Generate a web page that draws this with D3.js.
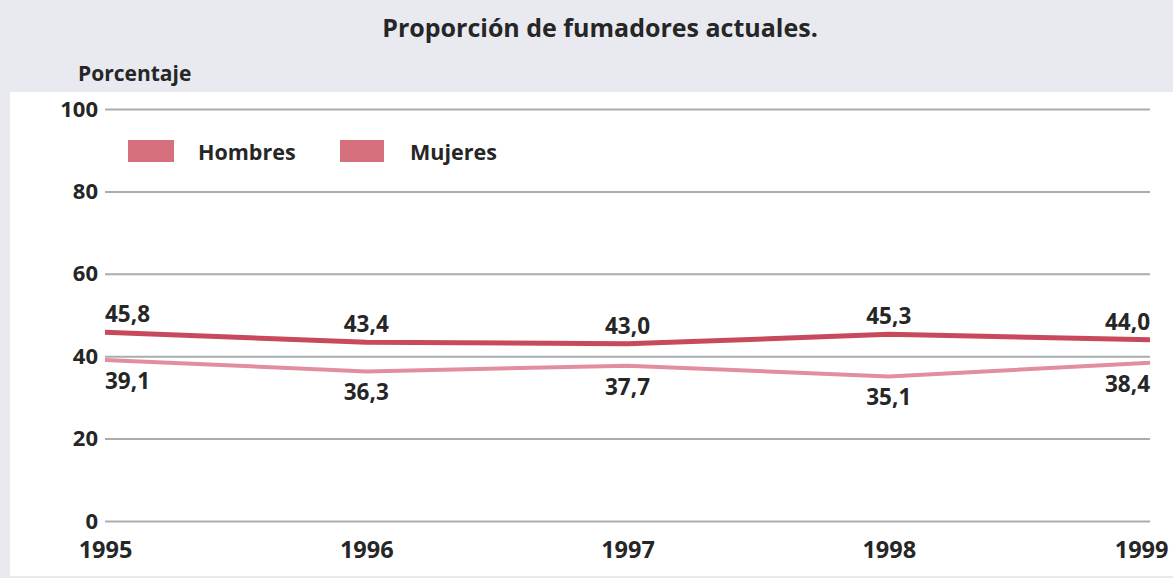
<!DOCTYPE html>
<html>
<head>
<meta charset="utf-8">
<script src="https://cdn.jsdelivr.net/npm/d3@7"></script>
<style>
  body { margin: 0; background: #e8eaf0; }
  text { font-family: "Open Sans", sans-serif; font-weight: 700; fill: #262626; }
</style>
</head>
<body>
<script>
// Data

let years = [1995, 1996, 1997, 1998, 1999]
let hombres = [45.8, 43.4, 43.0, 45.3, 44.0]
let mujeres = [39.1, 36.3, 37.7, 35.1, 38.4]
let yTicks = [0, 20, 40, 60, 80, 100]
let seriesNames = ['Hombres', 'Mujeres']

let width = 1173
let height = 578

let margin = {
    left: 105,
    top: 109,
    right: 23,
    bottom: 57
}

let chartWidth = width - margin.left - margin.right
let chartHeight = height - margin.top - margin.bottom

let colors = {
    Hombres: '#c9495c',
    Mujeres: '#e38ea0'
}

let fmt = v => d3.format('.1f')(v).replace('.', ',')

let svg = d3.select('body')
    .append('svg')
    .attr('width', width)
    .attr('height', height)
    .style('display', 'block')

// background and white panel
svg.append('rect')
    .attr('width', width)
    .attr('height', height)
    .attr('fill', '#e8eaf0')

svg.append('rect')
    .attr('x', 10)
    .attr('y', 92)
    .attr('width', width - 10)
    .attr('height', height - 92 - 2)
    .attr('fill', '#ffffff')

// titles
svg.append('text')
    .attr('x', 600)
    .attr('y', 37)
    .attr('text-anchor', 'middle')
    .style('font-size', '25px')
    .text('Proporción de fumadores actuales.')

svg.append('text')
    .attr('x', 78)
    .attr('y', 81)
    .style('font-size', '21px')
    .text('Porcentaje')

let chartGroup = svg.append('g')
    .attr('transform', `translate(${margin.left}, ${margin.top})`)

let xScale = d3.scalePoint()
    .domain(years)
    .range([0, chartWidth])

let yScale = d3.scaleLinear()
    .domain([0, 100])
    .range([chartHeight, 0])

// gridlines + y labels
let yAxis = d3.axisLeft(yScale)
    .tickValues(yTicks)
    .tickSize(-chartWidth)
    .tickPadding(7)

let yG = chartGroup.append('g').call(yAxis)
yG.select('.domain').remove()
yG.selectAll('line')
    .attr('stroke', '#a9adb0')
    .attr('stroke-width', 2)
yG.selectAll('text')
    .style('font-size', '22px')
    .attr('fill', '#262626')

// year labels
let xAxis = d3.axisBottom(xScale)
    .tickSize(0)
    .tickPadding(20)

let xG = chartGroup.append('g')
    .attr('transform', `translate(0, ${chartHeight})`)
    .call(xAxis)
xG.select('.domain').remove()
xG.selectAll('text')
    .style('font-size', '23.5px')
    .attr('fill', '#262626')
    .attr('text-anchor', (d, i) => i === years.length - 1 ? 'end' : 'middle')
    .attr('x', (d, i) => i === years.length - 1 ? 18 : 0)

// lines
let line = d3.line()
    .x((d, i) => xScale(years[i]))
    .y(d => yScale(d))

chartGroup.append('path')
    .datum(mujeres)
    .attr('d', line)
    .attr('fill', 'none')
    .attr('stroke', colors.Mujeres)
    .attr('stroke-width', 4)

chartGroup.append('path')
    .datum(hombres)
    .attr('d', line)
    .attr('fill', 'none')
    .attr('stroke', colors.Hombres)
    .attr('stroke-width', 5)

// value labels
let anchor = i => i === 0 ? 'start' : (i === years.length - 1 ? 'end' : 'middle')

chartGroup.selectAll('.lab-h')
    .data(hombres)
    .join('text')
    .attr('class', 'lab-h')
    .attr('x', (d, i) => xScale(years[i]))
    .attr('y', d => yScale(d) - 10)
    .attr('text-anchor', (d, i) => anchor(i))
    .style('font-size', '22.5px')
    .text(fmt)

chartGroup.selectAll('.lab-m')
    .data(mujeres)
    .join('text')
    .attr('class', 'lab-m')
    .attr('x', (d, i) => xScale(years[i]))
    .attr('y', d => yScale(d) + 29)
    .attr('text-anchor', (d, i) => anchor(i))
    .style('font-size', '22.5px')
    .text(fmt)

// legend
let legend = svg.append('g')
    .attr('transform', 'translate(128, 140)')

let legendX = [0, 212]

seriesNames.forEach((name, i) => {
    legend.append('rect')
        .attr('x', legendX[i])
        .attr('y', 0)
        .attr('width', i === 0 ? 46 : 44)
        .attr('height', 22)
        .attr('fill', '#d5707c')

    legend.append('text')
        .attr('x', legendX[i] + 70)
        .attr('y', 20)
        .style('font-size', '21.5px')
        .text(name)
})
</script>
</body>
</html>
